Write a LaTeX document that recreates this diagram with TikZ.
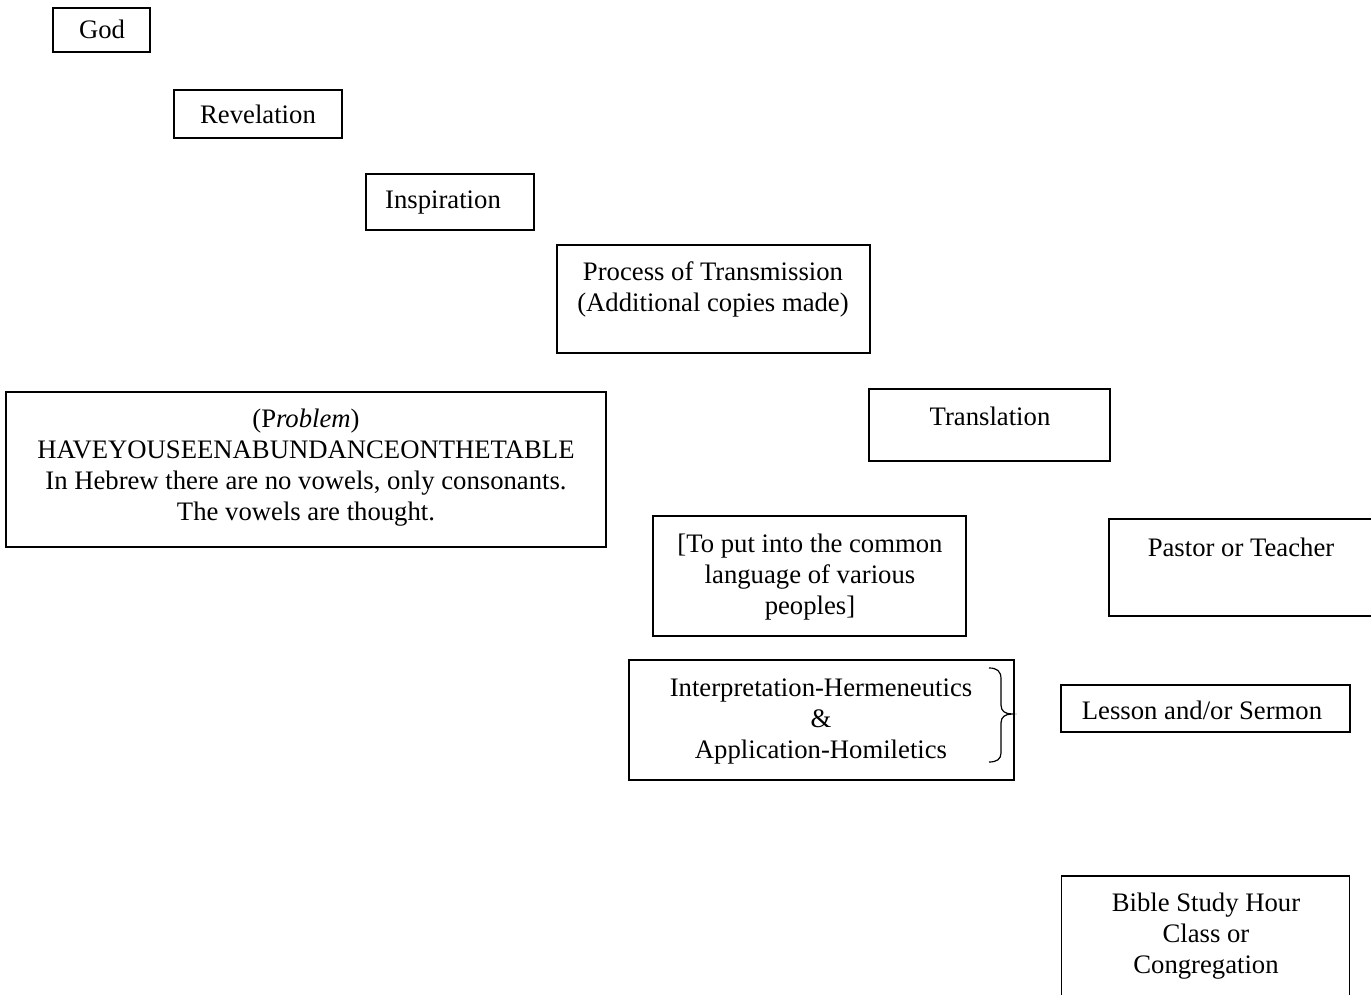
\documentclass[tikz,border=0pt]{standalone}
\usepackage{fontspec}
\setmainfont{Liberation Serif}
\begin{document}
\begin{tikzpicture}[x=1pt,y=-1pt,
  box/.style={draw, line width=1.3pt, inner sep=0pt},
  txt/.style={font=\fontsize{26.7}{31}\selectfont, align=center, inner sep=0pt, anchor=base},
  bracepath/.style={line width=1.2pt}]
\useasboundingbox (0,0) rectangle (1371,995);
\clip (0,0) rectangle (1371,995);
% boxes
\node[box, minimum width=97pt, minimum height=44pt] (god) at (101.5,30) {};
\node[box, minimum width=168pt, minimum height=48pt] (rev) at (258,114) {};
\node[box, minimum width=168pt, minimum height=56pt] (insp) at (450,202) {};
\node[box, minimum width=313pt, minimum height=108pt] (proc) at (713.5,299) {};
\node[box, minimum width=241pt, minimum height=72pt] (trans) at (989.5,425) {};
\node[box, minimum width=600pt, minimum height=155pt] (prob) at (306,469.5) {};
\node[box, minimum width=313pt, minimum height=120pt] (put) at (809.5,576) {};
\node[box, minimum width=280pt, minimum height=97pt] (past) at (1249,567.5) {};
\node[box, minimum width=385pt, minimum height=120pt] (interp) at (821.5,720) {};
\node[box, minimum width=289pt, minimum height=47pt] (less) at (1205.5,708.5) {};
\node[box, minimum width=288pt, minimum height=140pt] (bible) at (1205.5,946) {};
% texts (anchor = baseline of the last line)
\node[txt] (godT) at (102,39) {God};
\node[txt] (revT) at (258,124) {Revelation};
\node[txt] (inspT) at (443,209) {Inspiration};
\node[txt] (procT) at (713,311) {Process of Transmission\\(Additional copies made)};
\node[txt] (transT) at (990,425) {Translation};
\node[txt] (probT) at (306,520) {(P\textit{roblem})\\HAVEYOUSEENABUNDANCEONTHETABLE\\In Hebrew there are no vowels, only consonants.\\The vowels are thought.};
\node[txt] (putT) at (810,614) {[To put into the common\\language of various\\peoples]};
\node[txt] (pastT) at (1241,556) {Pastor or Teacher};
\node[txt] (interpT) at (821,758) {Interpretation-Hermeneutics\\\&\\Application-Homiletics};
\node[txt] (lessT) at (1202,719) {Lesson and/or Sermon};
\node[txt] (bibleT) at (1206,973) {Bible Study Hour\\Class or\\Congregation};
% brace
\coordinate (bt) at (989,668);
\coordinate (bm) at (1012,714);
\coordinate (bb) at (989,762);
\draw[bracepath] (bt) .. controls (997,668) and (1001,671) .. (1001,679) -- (1001,705)
  .. controls (1001,711) and (1005,714) .. (bm)
  .. controls (1005,714) and (1001,717) .. (1001,723) -- (1001,753)
  .. controls (1001,759) and (997,762) .. (bb);
\end{tikzpicture}
\end{document}
